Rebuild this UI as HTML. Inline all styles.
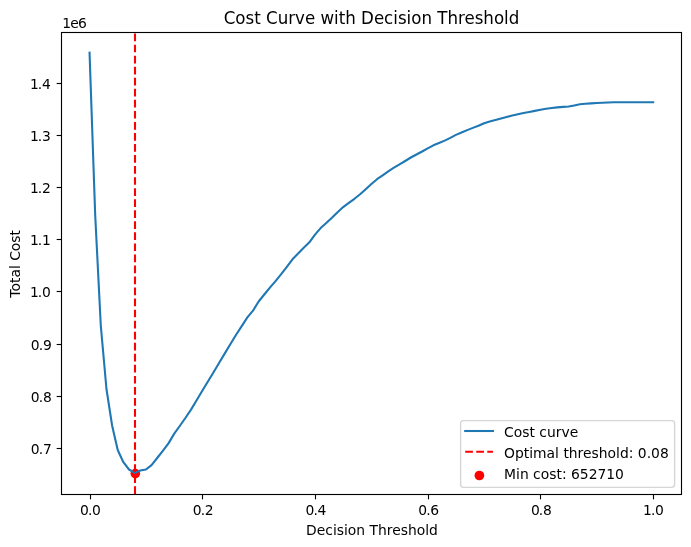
<!DOCTYPE html>
<html lang="en"><head><meta charset="utf-8"><title>Cost Curve with Decision Threshold</title>
<style>
html,body{margin:0;padding:0;background:#fff;}
svg{display:block;}
text{font-family:"DejaVu Sans","Liberation Sans",sans-serif;fill:#000;}
.t10{font-size:13.89px;}
.t12{font-size:16.67px;}
</style></head><body>
<svg width="691" height="547" viewBox="0 0 691 547">
<rect x="0" y="0" width="691" height="547" fill="#ffffff"/>
<circle cx="135.3" cy="473.6" r="4.8" fill="#ff0000"/>
<polyline points="89.55,52.70 95.19,215.00 100.82,326.00 106.46,389.00 112.10,425.50 117.73,450.00 123.37,462.20 129.00,469.50 134.64,472.90 140.28,470.50 145.91,469.50 151.55,465.10 157.19,458.00 162.82,450.90 168.46,443.40 174.10,433.90 179.73,426.00 185.37,418.00 191.01,409.60 196.64,400.20 202.28,390.80 207.91,381.50 213.55,372.20 219.19,362.80 224.82,353.40 230.46,344.00 236.10,334.80 241.73,326.10 247.37,317.40 253.01,310.70 258.64,301.50 264.28,294.50 269.91,287.70 275.55,281.10 281.19,274.20 286.82,266.80 292.46,259.30 298.10,253.50 303.73,247.70 309.37,242.30 315.01,234.60 320.64,228.10 326.28,223.00 331.92,217.80 337.55,212.20 343.19,207.10 348.82,202.90 354.46,198.80 360.10,194.30 365.73,189.20 371.37,184.10 377.01,179.20 382.64,175.40 388.28,171.30 393.92,167.70 399.55,164.40 405.19,161.00 410.82,157.50 416.46,154.50 422.10,151.50 427.73,148.30 433.37,145.30 439.01,143.00 444.64,140.60 450.28,137.90 455.92,134.90 461.55,132.50 467.19,130.10 472.83,127.90 478.46,125.70 484.10,123.20 489.73,121.50 495.37,120.00 501.01,118.40 506.64,116.90 512.28,115.60 517.92,114.30 523.55,113.00 529.19,111.90 534.83,110.90 540.46,109.80 546.10,108.70 551.73,108.00 557.37,107.40 563.01,106.90 568.64,106.50 574.28,105.40 579.92,104.30 585.55,103.80 591.19,103.40 596.83,103.00 602.46,102.80 608.10,102.50 613.74,102.30 619.37,102.25 625.01,102.25 630.64,102.25 636.28,102.25 641.92,102.25 647.55,102.25 653.19,102.25" fill="none" stroke="#1f77b4" stroke-width="2.083" stroke-linejoin="round" stroke-linecap="square"/>
<line x1="135.0" y1="494.0" x2="135.0" y2="32.0" stroke="#ff0000" stroke-width="2.083" stroke-dasharray="7.708 3.333"/>
<rect x="61.5" y="32.5" width="620.0" height="462.0" fill="none" stroke="#000" stroke-width="1.11"/>
<line x1="90.5" y1="494.5" x2="90.5" y2="499.36" stroke="#000" stroke-width="1.11"/><text class="t10" x="79.97 87.95 92.00" y="514.82">0.0</text>
<line x1="202.5" y1="494.5" x2="202.5" y2="499.36" stroke="#000" stroke-width="1.11"/><text class="t10" x="192.69 200.68 204.73" y="514.82">0.2</text>
<line x1="315.5" y1="494.5" x2="315.5" y2="499.36" stroke="#000" stroke-width="1.11"/><text class="t10" x="305.42 313.41 317.45" y="514.82">0.4</text>
<line x1="428.5" y1="494.5" x2="428.5" y2="499.36" stroke="#000" stroke-width="1.11"/><text class="t10" x="418.15 426.14 430.18" y="514.82">0.6</text>
<line x1="540.5" y1="494.5" x2="540.5" y2="499.36" stroke="#000" stroke-width="1.11"/><text class="t10" x="530.88 538.86 542.91" y="514.82">0.8</text>
<line x1="653.5" y1="494.5" x2="653.5" y2="499.36" stroke="#000" stroke-width="1.11"/><text class="t10" x="642.94 650.88 655.10" y="514.82">1.0</text>
<line x1="56.64" y1="448.5" x2="61.5" y2="448.5" stroke="#000" stroke-width="1.11"/><text class="t10" x="30.69 38.76 42.94" y="453.90">0.7</text>
<line x1="56.64" y1="396.5" x2="61.5" y2="396.5" stroke="#000" stroke-width="1.11"/><text class="t10" x="30.69 38.76 42.94" y="401.90">0.8</text>
<line x1="56.64" y1="344.5" x2="61.5" y2="344.5" stroke="#000" stroke-width="1.11"/><text class="t10" x="30.69 38.76 42.94" y="349.90">0.9</text>
<line x1="56.64" y1="291.5" x2="61.5" y2="291.5" stroke="#000" stroke-width="1.11"/><text class="t10" x="30.05 37.83 42.04" y="296.90">1.0</text>
<line x1="56.64" y1="239.5" x2="61.5" y2="239.5" stroke="#000" stroke-width="1.11"/><text class="t10" x="30.05 37.83 42.04" y="244.90">1.1</text>
<line x1="56.64" y1="187.5" x2="61.5" y2="187.5" stroke="#000" stroke-width="1.11"/><text class="t10" x="30.05 37.83 42.04" y="192.90">1.2</text>
<line x1="56.64" y1="135.5" x2="61.5" y2="135.5" stroke="#000" stroke-width="1.11"/><text class="t10" x="30.05 37.83 42.04" y="140.90">1.3</text>
<line x1="56.64" y1="83.5" x2="61.5" y2="83.5" stroke="#000" stroke-width="1.11"/><text class="t10" x="30.05 37.83 42.04" y="88.90">1.4</text>
<text class="t10" x="62.2" y="27.9" textLength="24.6" lengthAdjust="spacing">1e6</text>
<text class="t12" transform="translate(371.5,24.1) scale(1,1.08)" text-anchor="middle">Cost Curve with Decision Threshold</text>
<text class="t10" x="372.0" y="534.7" text-anchor="middle">Decision Threshold</text>
<text class="t10" transform="translate(20.0,263.8) rotate(-90)" text-anchor="middle">Total Cost</text>
<rect x="460.6" y="420.6" width="214.0" height="66.79999999999995" rx="2.8" ry="2.8" fill="#ffffff" fill-opacity="0.8" stroke="#cccccc" stroke-opacity="0.8" stroke-width="1.39"/>
<line x1="465.20" y1="431.0" x2="492.98" y2="431.0" stroke="#1f77b4" stroke-width="2.083" stroke-linecap="square"/>
<text class="t10" x="504.09" y="437.0">Cost curve</text>
<line x1="465.20" y1="451.8" x2="492.98" y2="451.8" stroke="#ff0000" stroke-width="2.083" stroke-dasharray="7.708 3.333"/>
<text class="t10" x="504.09" y="457.8">Optimal threshold: 0.08</text>
<circle cx="479.39" cy="475.5" r="4.86" fill="#ff0000"/>
<text class="t10" x="504.09" y="478.9">Min cost: 652710</text>
</svg>
</body></html>
